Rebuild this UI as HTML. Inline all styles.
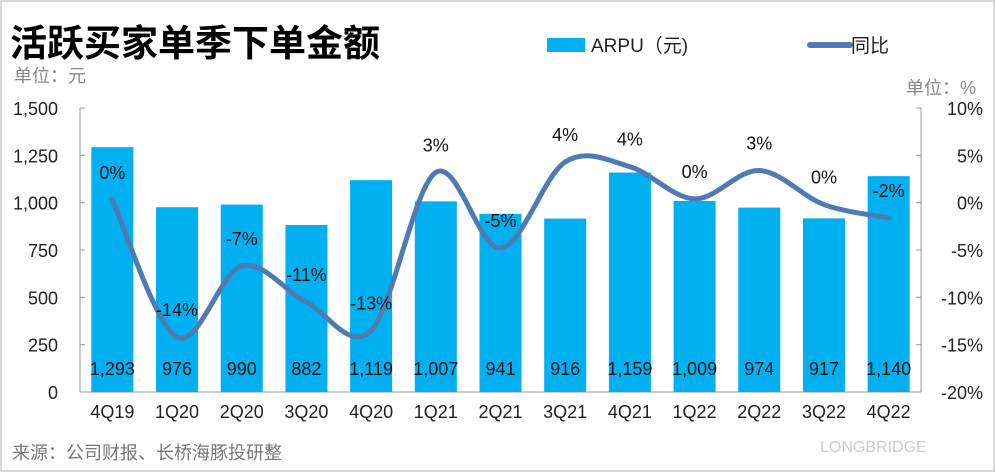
<!DOCTYPE html>
<html><head><meta charset="utf-8"><style>
body{margin:0;background:#fff;}
#wrap{position:relative;width:995px;height:472px;overflow:hidden;background:#fff;box-sizing:border-box;border:2px solid #d9d9d9;font-family:"Liberation Sans","Noto Sans CJK SC",sans-serif;}
svg text{font-family:"Liberation Sans","Noto Sans CJK SC",sans-serif;}
</style></head><body>
<div id="wrap">
<svg id="chart" width="995" height="472" style="position:absolute;left:-2px;top:-2px">
<text x="10" y="56" font-size="37" font-weight="bold" fill="#000">活跃买家单季下单金额</text>
<rect x="547" y="38" width="38" height="14" fill="#00B0F0"/>
<text x="591" y="52" font-size="19" fill="#222">ARPU（元)</text>
<line x1="810" y1="45" x2="850" y2="45" stroke="#4F7AB3" stroke-width="6" stroke-linecap="round"/>
<text x="851" y="52" font-size="19" fill="#222">同比</text>
<text x="14" y="82" font-size="18" fill="#888">单位：元</text>
<text x="976" y="94" font-size="18" fill="#888" text-anchor="end">单位：%</text>
<text x="12" y="459" font-size="18" fill="#777">来源：公司财报、长桥海豚投研整</text>
<text x="820" y="452" font-size="16" fill="#ccc">LONGBRIDGE</text>
<g id="axes"></g><g id="bars"></g><g id="line"></g><g id="labels"></g>
</svg>
</div>
<script>
const categories=["4Q19","1Q20","2Q20","3Q20","4Q20","1Q21","2Q21","3Q21","4Q21","1Q22","2Q22","3Q22","4Q22"];
const arpu=[1293,976,990,882,1119,1007,941,916,1159,1009,974,917,1140];
const yoy=[0.3,-14.2,-6.7,-10.5,-13.5,3.2,-4.8,4.3,3.8,0.4,3.4,-0.2,-1.6];
const yoyLabels=["0%","-14%","-7%","-11%","-13%","3%","-5%","4%","4%","0%","3%","0%","-2%"];
const leftTicks=[0,250,500,750,1000,1250,1500];
const rightTicks=[-20,-15,-10,-5,0,5,10];
const NS="http://www.w3.org/2000/svg";
const X0=80,X1=921,YT=108,YB=392;
const step=(X1-X0)/categories.length;
const xc=i=>X0+step*(i+0.5);
const yL=v=>YB-(v/1500)*(YB-YT);
const yR=v=>YB-((v+20)/30)*(YB-YT);
function mk(tag,attrs,parent,txt){const e=document.createElementNS(NS,tag);for(const k in attrs)e.setAttribute(k,attrs[k]);if(txt!==undefined)e.textContent=txt;document.getElementById(parent).appendChild(e);return e;}
let e;
e=mk("line",{x1:X0,y1:YT,x2:X0,y2:YB,stroke:"#999","stroke-width":1},"axes");


e=mk("line",{x1:X1,y1:YT,x2:X1,y2:YB,stroke:"#999","stroke-width":1},"axes");


e=mk("line",{x1:X0,y1:YB,x2:X1,y2:YB,stroke:"#999","stroke-width":1},"axes");


leftTicks.forEach(t=>{
 e=mk("text",{x:58,y:yL(t)+7,"font-size":18,"text-anchor":"end",fill:"#222"},"axes",t.toLocaleString("en-US"));
 
 
 e=mk("line",{x1:X0,y1:yL(t),x2:X0+5,y2:yL(t),stroke:"#999"},"axes");
 
 
});
rightTicks.forEach(t=>{
 e=mk("text",{x:983,y:yR(t)+7,"font-size":18,"text-anchor":"end",fill:"#222"},"axes",t+"%");
 
 
 e=mk("line",{x1:X1-5,y1:yR(t),x2:X1,y2:yR(t),stroke:"#999"},"axes");
 
 
});
categories.forEach((c,i)=>{
 e=mk("rect",{x:xc(i)-21,y:yL(arpu[i]),width:42,height:YB-yL(arpu[i]),fill:"#00B0F0"},"bars");
 
 
 e=mk("text",{x:xc(i),y:375,"font-size":18,"text-anchor":"middle",fill:"#111"},"labels",arpu[i].toLocaleString("en-US"));
 
 
 e=mk("text",{x:xc(i),y:418,"font-size":18,"text-anchor":"middle",fill:"#222"},"axes",c);
 
 
});
const pts=yoy.map((v,i)=>[xc(i),yR(v)]);
let d="M"+pts[0][0]+","+pts[0][1];
for(let i=0;i<pts.length-1;i++){
 const p0=pts[Math.max(i-1,0)],p1=pts[i],p2=pts[i+1],p3=pts[Math.min(i+2,pts.length-1)];
 const k=1/6;
 d+=` C${p1[0]+(p2[0]-p0[0])*k},${p1[1]+(p2[1]-p0[1])*k} ${p2[0]-(p3[0]-p1[0])*k},${p2[1]-(p3[1]-p1[1])*k} ${p2[0]},${p2[1]}`;
}
e=mk("path",{d:d,fill:"none",stroke:"#4F7AB3","stroke-width":5,"stroke-linecap":"round"},"line");


yoyLabels.forEach((l,i)=>{
 e=mk("text",{x:xc(i),y:yR(yoy[i])-21,"font-size":18,"text-anchor":"middle",fill:"#111"},"labels",l);
 
 
});
</script>
</body></html>
